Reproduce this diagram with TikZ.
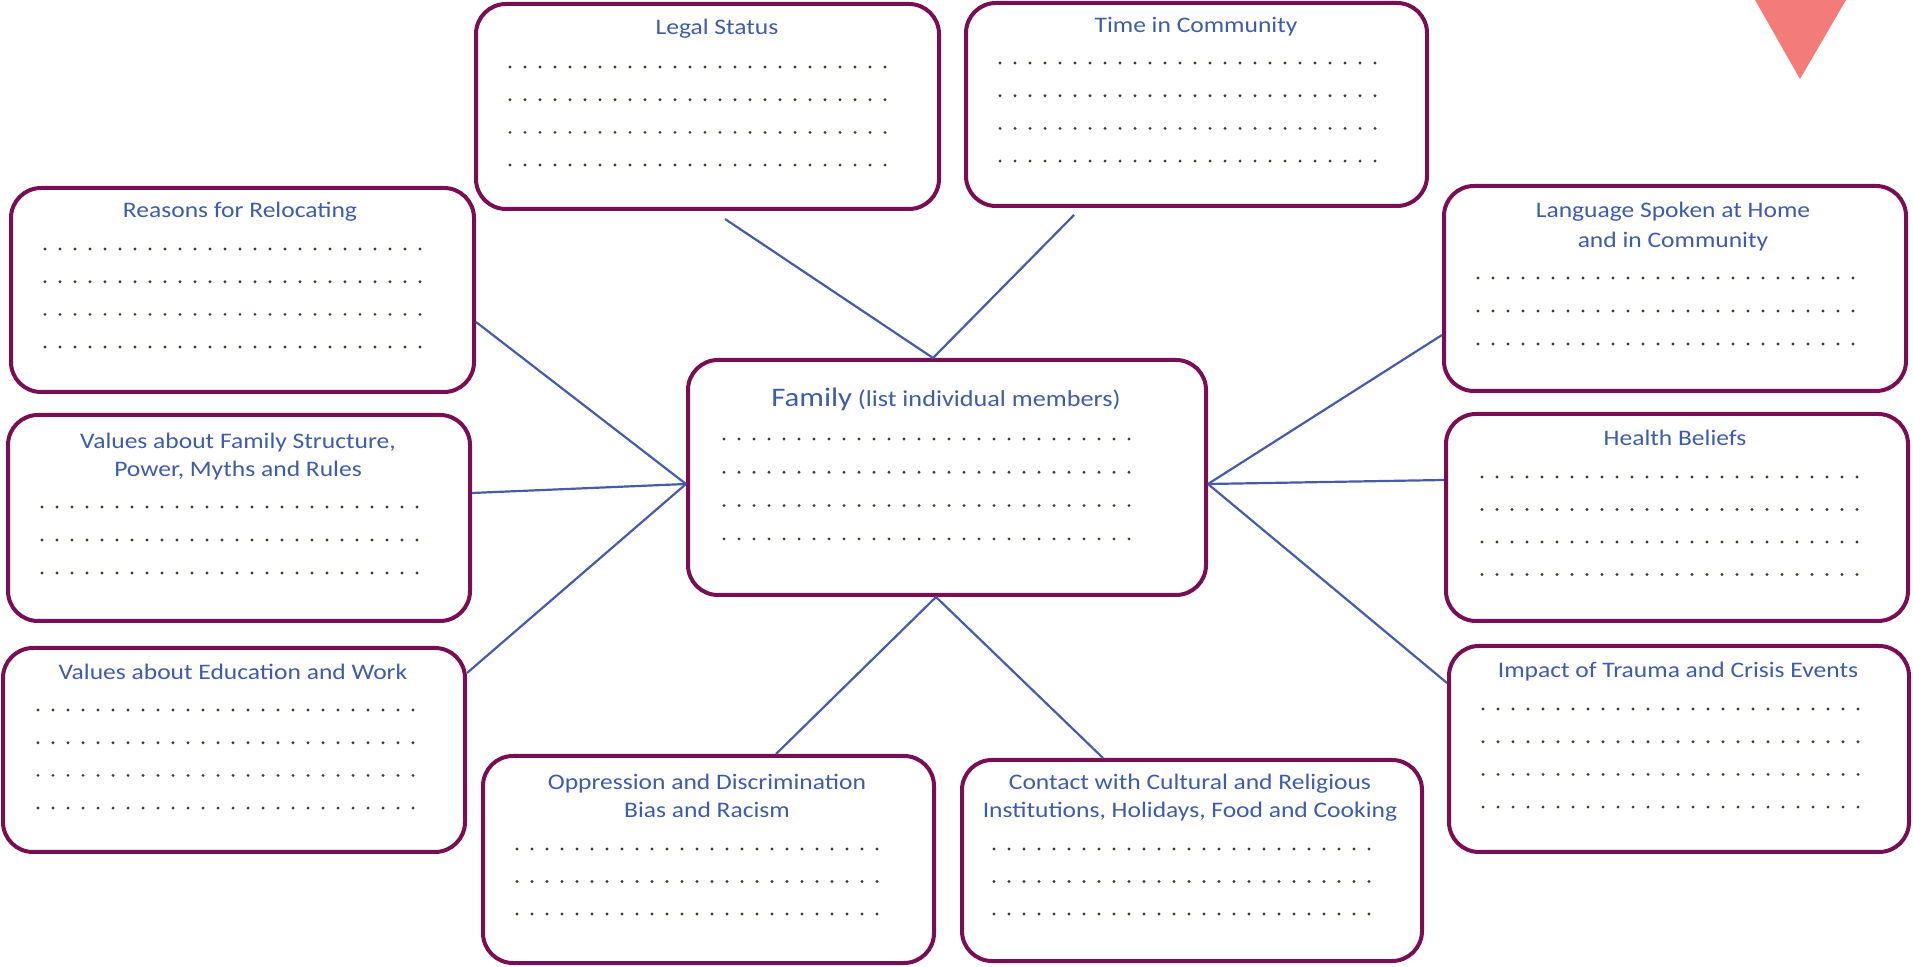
\documentclass[tikz,border=0pt]{standalone}
\usepackage{fontspec}
\setmainfont{Carlito}[FakeStretch=1.15]
\usetikzlibrary{calc}
\definecolor{boxc}{RGB}{122,14,84}
\definecolor{linec}{RGB}{70,92,168}
\definecolor{txtc}{RGB}{62,92,170}
\definecolor{dotc}{RGB}{72,58,40}
\definecolor{tric}{RGB}{243,124,122}
\newcommand{\mydots}[3]{%
  \foreach \k in {1,...,#3} {\fill[dotc] ({#1+(\k-1)*15},{#2}) circle (0.8pt);}}
\newcommand{\mydotrows}[5]{%
  \foreach \r in {1,...,#4} {\mydots{#1}{#2+(\r-1)*#5}{#3}}}
\tikzset{
  box/.style={draw=boxc, line width=2pt, rounded corners=15pt, inner sep=0pt, fill=white},
  ttl/.style={text=txtc, font=\fontsize{11.1}{13}\selectfont, inner sep=0pt, anchor=base},
  conn/.style={draw=linec, line width=1.1pt},
}
\begin{document}
\begin{tikzpicture}[x=0.5pt, y=-0.5pt]
\useasboundingbox (0,0) rectangle (1913,967);
% triangle
\fill[tric] (1755,0) -- (1846,0) -- (1800,79) -- cycle;
% boxes
\node[box, minimum width=231.5pt, minimum height=102.5pt] (legal) at (707.5,106.5) {};
\node[box, minimum width=230.5pt, minimum height=101.5pt] (time) at (1196.5,104.5) {};
\node[box, minimum width=231.5pt, minimum height=102pt] (reasons) at (242.5,290) {};
\node[box, minimum width=231pt, minimum height=102.5pt] (lang) at (1675,288.5) {};
\node[box, minimum width=259pt, minimum height=117.5pt] (family) at (947,477.5) {};
\node[box, minimum width=231pt, minimum height=103pt] (vfs) at (239,518) {};
\node[box, minimum width=231pt, minimum height=103.5pt] (health) at (1677,517.5) {};
\node[box, minimum width=231pt, minimum height=102pt] (vedu) at (234,750) {};
\node[box, minimum width=230pt, minimum height=103pt] (impact) at (1679,749) {};
\node[box, minimum width=225.5pt, minimum height=103.5pt] (opp) at (708.5,859.5) {};
\node[box, minimum width=230pt, minimum height=100.5pt] (contact) at (1192,860.5) {};
% titles
\node[ttl] (t-legal) at (717,35) {Legal Status};
\node[ttl] (t-time) at (1196,33) {Time in Community};
\node[ttl] (t-reasons) at (240,218) {Reasons for Relocating};
\node[ttl] (t-lang1) at (1673,218) {Language Spoken at Home};
\node[ttl] (t-lang2) at (1673,248) {and in Community};
\node[ttl] (t-family) at (946,407) {{\fontsize{13.4}{16}\selectfont Family} {\fontsize{11.4}{13}\selectfont (list individual members)}};
\node[ttl] (t-vfs1) at (238,449) {Values about Family Structure,};
\node[ttl] (t-vfs2) at (238,477) {Power, Myths and Rules};
\node[ttl] (t-health) at (1675,446) {Health Beliefs};
\node[ttl] (t-vedu) at (233,680) {Values about Education and Work};
\node[ttl] (t-impact) at (1678,678) {Impact of Trauma and Crisis Events};
\node[ttl] (t-opp1) at (707,790) {Oppression and Discrimination};
\node[ttl] (t-opp2) at (707,818) {Bias and Racism};
\node[ttl] (t-contact1) at (1190,790) {Contact with Cultural and Religious};
\node[ttl] (t-contact2) at (1190,818) {Institutions, Holidays, Food and Cooking};
% dotted lines
\mydotrows{510}{67}{26}{4}{32.7}
\mydotrows{1000}{63}{26}{4}{32.7}
\mydotrows{45}{249}{26}{4}{32.7}
\mydotrows{1478}{278}{26}{3}{33}
\mydotrows{724}{439}{28}{4}{33.3}
\mydotrows{42}{507}{26}{3}{33}
\mydotrows{1482}{477}{26}{4}{32.5}
\mydotrows{38}{710}{26}{4}{32.7}
\mydotrows{1483}{709}{26}{4}{32.7}
\mydotrows{517}{849}{25}{3}{32.5}
\mydotrows{994}{849}{26}{3}{32.5}
% hub coordinates on the family box
\coordinate (ftop) at ($(family.north)+(-14,0)$);
\coordinate (fleft) at ($(family.west)+(0,6.5)$);
\coordinate (fright) at ($(family.east)+(0,6.5)$);
\coordinate (fbot) at ($(family.south)+(-11,0)$);
% connectors
\draw[conn] ($(legal.south)+(17.5,8)$) -- (ftop);
\draw[conn] ($(time.south)+(-122.5,7)$) -- (ftop);
\draw[conn] ($(reasons.east)+(0,32)$) -- (fleft);
\draw[conn] ($(vfs.east)+(0,-25)$) -- (fleft);
\draw[conn] ($(vedu.east)+(0,-77)$) -- (fleft);
\draw[conn] ($(lang.west)+(0,46.5)$) -- (fright);
\draw[conn] ($(health.west)+(0,-37.5)$) -- (fright);
\draw[conn] ($(impact.west)+(0,-66)$) -- (fright);
\draw[conn] (fbot) -- ($(opp.north)+(67.5,0)$);
\draw[conn] (fbot) -- ($(contact.north)+(-89,0)$);
\end{tikzpicture}
\end{document}
